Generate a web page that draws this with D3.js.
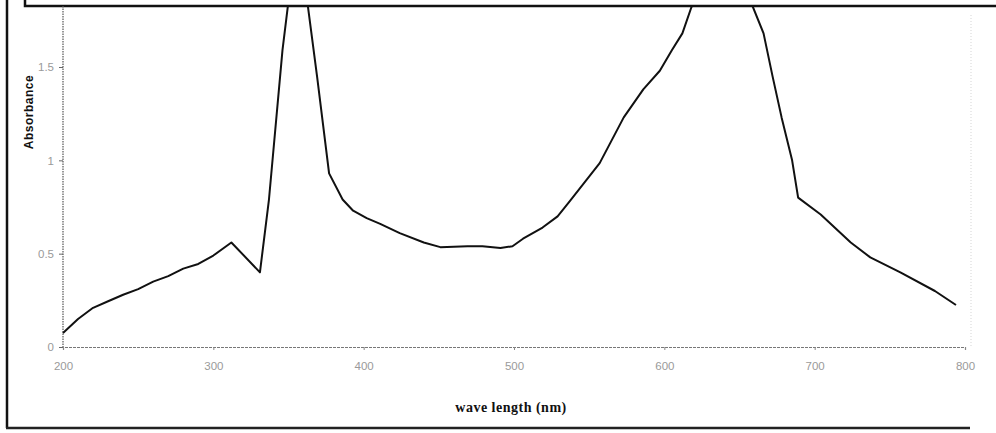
<!DOCTYPE html>
<html>
<head>
<meta charset="utf-8">
<script src="https://cdn.jsdelivr.net/npm/d3@7"></script>
<style>
  html, body { margin: 0; padding: 0; background: #fff; }
  svg { display: block; }
</style>
</head>
<body>
<svg id="chart" width="996" height="433"></svg>
<script>
// ---- data ----
const wavelength = [200, 210, 220, 230, 240, 250, 260, 270, 280, 290, 300, 312, 331, 337, 346, 356,
  369, 377, 386, 393, 402, 411, 424, 440, 451, 469, 479, 491, 499, 506, 519, 529, 537, 557, 573,
  586, 597, 605, 612, 618, 640, 659, 666, 672, 678, 685, 689, 704, 724, 737, 757, 780, 794];
const absorbance = [0.075, 0.15, 0.21, 0.245, 0.28, 0.31, 0.35, 0.38, 0.42, 0.445, 0.49, 0.56, 0.40, 0.79, 1.59, 2.25,
  1.45, 0.93, 0.79, 0.73, 0.69, 0.66, 0.61, 0.56, 0.535, 0.54, 0.54, 0.53, 0.54, 0.58, 0.64, 0.70, 0.78, 0.985, 1.23,
  1.38, 1.48, 1.59, 1.68, 1.82, 2.1, 1.82, 1.68, 1.45, 1.23, 1.0, 0.80, 0.71, 0.56, 0.48, 0.40, 0.30, 0.225];
const xTicks = [200, 300, 400, 500, 600, 700, 800];
const yTicks = [0, 0.5, 1, 1.5];
const yTickLabels = ["0", "0.5", "1", "1.5"];
const xTitle = "wave length (nm)";
const yTitle = "Absorbance";

const svg = d3.select("#chart");
const x = d3.scaleLinear().domain([200, 800]).range([63, 965]);
const y = d3.scaleLinear().domain([0, 1.5]).range([347, 67]);
const plotTop = 6;

// outer frame (left and bottom edges visible)
svg.append("line").attr("x1", 7).attr("x2", 7).attr("y1", 0).attr("y2", 428)
  .attr("stroke", "#111").attr("stroke-width", 2.5);
svg.append("line").attr("x1", 6).attr("x2", 970).attr("y1", 428).attr("y2", 428)
  .attr("stroke", "#222").attr("stroke-width", 2.5);

// top box (cut off)
svg.append("rect").attr("x", 25).attr("y", -10).attr("width", 1000).attr("height", 16)
  .attr("fill", "#fff").attr("stroke", "#111").attr("stroke-width", 2.5);

// clip for the plot
svg.append("defs").append("clipPath").attr("id", "plotclip")
  .append("rect").attr("x", 0).attr("y", plotTop + 1).attr("width", 996).attr("height", 420);

// y axis
const yAxis = d3.axisLeft(y).tickValues(yTicks).tickFormat((d, i) => yTickLabels[i])
  .tickSize(4).tickPadding(5);
const gy = svg.append("g").attr("transform", `translate(${x(200)},0)`).call(yAxis);
gy.select(".domain").remove();
gy.selectAll(".tick line").attr("stroke", "#666");
gy.selectAll(".tick text").attr("fill", "#9a9a9a").style("font-family", "Liberation Sans, sans-serif").style("font-size", "11.5px");
svg.append("line").attr("x1", x(200)).attr("x2", x(200)).attr("y1", plotTop).attr("y2", y(0))
  .attr("stroke", "#555").attr("stroke-width", 1.2).attr("stroke-dasharray", "1.5,1");

// right faint border
svg.append("line").attr("x1", x(800) + 6).attr("x2", x(800) + 6).attr("y1", 15).attr("y2", y(0))
  .attr("stroke", "#d5d5d5").attr("stroke-width", 1).attr("stroke-dasharray", "1,2");

// x axis
const xAxis = d3.axisBottom(x).tickValues(xTicks).tickSize(3).tickPadding(12);
const gx = svg.append("g").attr("transform", `translate(0,${y(0)})`).call(xAxis);
gx.select(".domain").attr("stroke", "#777").attr("stroke-width", 1.2).attr("stroke-dasharray", "3,1");
gx.selectAll(".tick line").attr("stroke", "#888");
gx.selectAll(".tick text").attr("fill", "#9a9a9a").style("font-family", "Liberation Sans, sans-serif").style("font-size", "11.5px");

// titles
svg.append("text").attr("transform", `translate(33,${112}) rotate(-90)`)
  .attr("text-anchor", "middle").style("font-family", "Liberation Sans, sans-serif")
  .style("font-weight", "bold").style("font-size", "12px").style("letter-spacing", "0.5px")
  .attr("fill", "#111").text(yTitle);
svg.append("text").attr("x", 511).attr("y", 412).attr("text-anchor", "middle")
  .style("font-family", "Liberation Serif, serif").style("font-weight", "bold")
  .style("font-size", "14px").style("letter-spacing", "0.5px").attr("fill", "#111").text(xTitle);

// the spectrum
const line = d3.line().x((d, i) => x(wavelength[i])).y(d => y(d));
svg.append("path").datum(absorbance).attr("clip-path", "url(#plotclip)")
  .attr("d", line).attr("fill", "none").attr("stroke", "#111").attr("stroke-width", 2)
  .attr("stroke-linejoin", "round");
</script>
</body>
</html>
